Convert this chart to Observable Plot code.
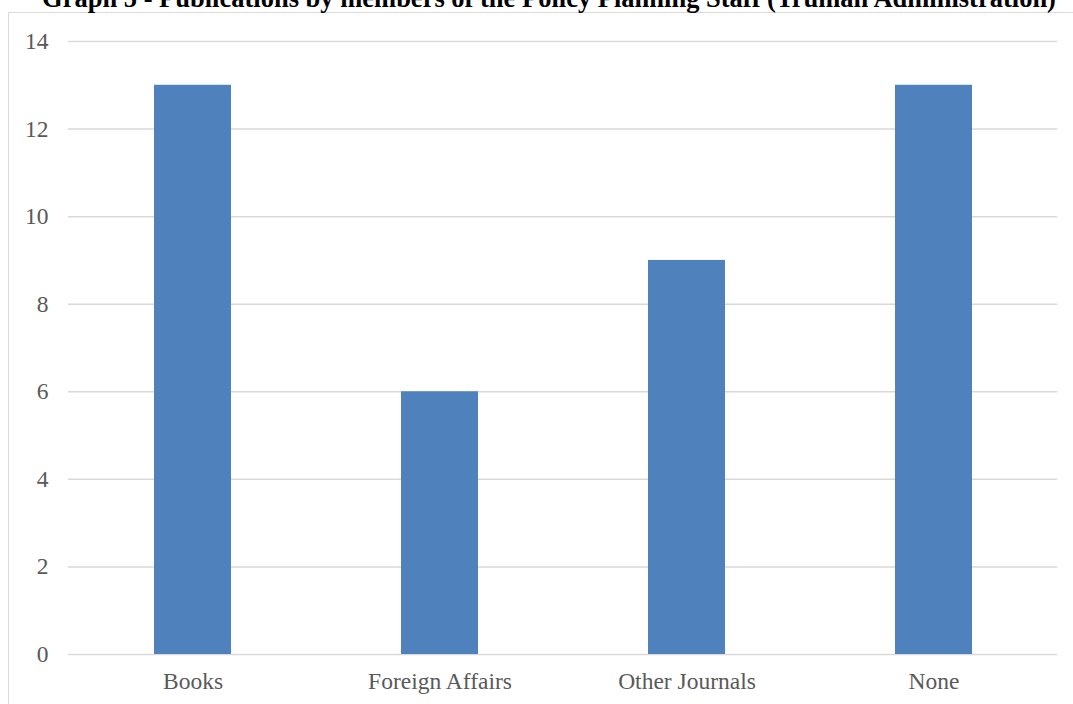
<!DOCTYPE html>
<html>
<head>
<meta charset="utf-8">
<script src="https://cdn.jsdelivr.net/npm/d3@7"></script>
<script src="https://cdn.jsdelivr.net/npm/@observablehq/plot@0.6"></script>
<style>
  html, body { margin: 0; padding: 0; background: #fff; overflow: hidden; width: 1073px; height: 704px; }
  #title { position: absolute; left: 0; top: -15px; width: 1098px; text-align: center;
    font-family: "Liberation Serif", "Times New Roman", serif; font-weight: bold;
    font-size: 26.5px; line-height: 26.5px; color: #000; white-space: nowrap; }
  #frame { position: absolute; left: 7.5px; top: 12px; width: 1100px; height: 800px;
    border: 1px solid #d9d9d9; box-sizing: border-box; }
  #chart { position: absolute; left: 0; top: 0; }
  #chart svg { background: transparent; }
</style>
</head>
<body>
<div id="frame"></div>
<div id="title">Graph 5 - Publications by members of the Policy Planning Staff (Truman Administration)</div>
<div id="chart"></div>
<script>
const categories = ["Books", "Foreign Affairs", "Other Journals", "None"];
const counts = [13, 6, 9, 13];
const yTicks = [0, 2, 4, 6, 8, 10, 12, 14];

const data = categories.map((c, i) => ({category: c, count: counts[i]}));

const chart = Plot.plot({
  width: 1073,
  height: 704,
  marginLeft: 68,
  marginRight: 16,
  marginTop: 41,
  marginBottom: 50,
  style: {
    fontFamily: "'Liberation Serif', 'Times New Roman', serif",
    fontSize: "23.5px",
    color: "#595959",
    background: "transparent"
  },
  x: {domain: categories, paddingInner: 0.69, paddingOuter: 0.345, label: null},
  y: {domain: [0, 14], label: null},
  marks: [
    Plot.ruleY(yTicks, {stroke: "#d9d9d9", strokeWidth: 1.5}),
    Plot.barY(data, {x: "category", y: "count", fill: "#4F81BD"}),
    Plot.axisY({ticks: yTicks, tickSize: 0, tickPadding: 20, label: null, fill: "#595959"}),
    Plot.axisX({tickSize: 0, tickPadding: 18, label: null, fill: "#595959"})
  ]
});
document.getElementById("chart").appendChild(chart);
</script>
</body>
</html>
